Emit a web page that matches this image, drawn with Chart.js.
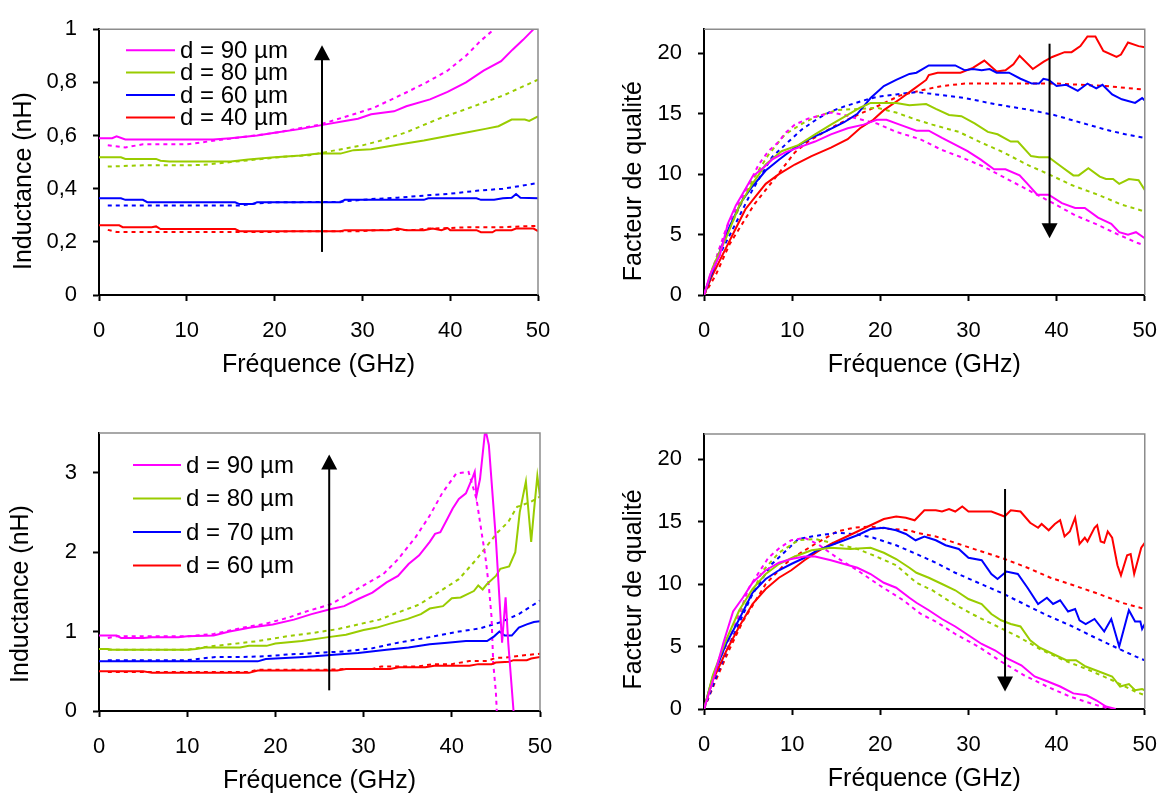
<!DOCTYPE html>
<html>
<head>
<meta charset="utf-8">
<script src="https://cdn.jsdelivr.net/npm/chart.js@4.4.1/dist/chart.umd.min.js"></script>
<style>
  body { margin: 0; background: #fff; width: 1174px; height: 793px; position: relative; overflow: hidden; }
  canvas { position: absolute; }
</style>
</head>
<body>
<canvas id="c1" width="590" height="390" style="left:0;top:0"></canvas>
<canvas id="c2" width="584" height="390" style="left:590px;top:0"></canvas>
<canvas id="c3" width="590" height="396" style="left:0;top:400px"></canvas>
<canvas id="c4" width="584" height="396" style="left:590px;top:400px"></canvas>
<script>
// couleurs des courbes
var MAG = '#FF00FF', GRN = '#99CC00', BLU = '#0000FF', RED = '#FF0000';

// ---- inductance, premier jeu (d = 90/80/60/40 µm) : [GHz, nH]
var L1_mes90 = [[0,0.59],[1.5,0.59],[2,0.597],[3,0.585],[13,0.585],[15,0.59],[18,0.60],[20,0.61],[23,0.625],[25.5,0.64],[28,0.655],[29.5,0.663],[31,0.68],[33.6,0.691],[35,0.71],[37.7,0.736],[39.7,0.764],[41.8,0.80],[43.8,0.844],[45.8,0.88],[47.1,0.923],[48.3,0.96],[49.5,1.0],[50,1.02]];
var L1_sim90 = [[1,0.563],[3,0.555],[5,0.567],[10,0.567],[13,0.58],[16,0.593],[20,0.61],[25,0.64],[27,0.66],[29,0.68],[31.2,0.703],[33.6,0.74],[35.5,0.77],[37.3,0.80],[39.7,0.844],[41.8,0.90],[43.4,0.954],[45,1.0],[46,1.03]];
var L1_mes80 = [[0,0.518],[2.5,0.518],[3,0.512],[6.5,0.512],[7,0.505],[8,0.502],[15,0.502],[17,0.51],[20,0.518],[23,0.525],[25,0.532],[27.5,0.532],[29,0.545],[31,0.548],[34,0.565],[37,0.581],[40,0.60],[42,0.612],[44,0.625],[45.5,0.635],[47,0.66],[48.5,0.66],[49,0.655],[50,0.672]];
var L1_sim80 = [[1,0.483],[5,0.488],[10,0.488],[12,0.49],[15,0.50],[18,0.51],[21,0.52],[24,0.526],[27,0.545],[30,0.563],[32,0.58],[35,0.612],[37,0.64],[39,0.667],[41,0.69],[43.5,0.72],[46,0.75],[48,0.78],[50,0.81]];
var L1_mes60 = [[0,0.364],[2.5,0.364],[3,0.358],[5,0.358],[5.5,0.349],[15.5,0.349],[16,0.342],[17.5,0.342],[18,0.349],[27.5,0.349],[28,0.358],[37,0.358],[37.5,0.364],[43,0.364],[43.5,0.358],[45,0.358],[46,0.364],[47,0.366],[47.5,0.38],[48,0.366],[50,0.364]];
var L1_sim60 = [[1,0.337],[16,0.337],[18,0.345],[20,0.349],[27,0.35],[29,0.355],[31,0.361],[34,0.366],[37,0.374],[40,0.381],[43,0.392],[46,0.40],[48,0.41],[50,0.422]];
var L1_mes40 = [[0,0.262],[2.3,0.262],[2.7,0.255],[6,0.255],[6.5,0.258],[7,0.248],[15.5,0.248],[16,0.24],[27.5,0.24],[28,0.244],[33,0.244],[34,0.25],[35,0.244],[37,0.244],[38,0.25],[39,0.244],[39.7,0.252],[40,0.244],[43,0.244],[43.5,0.236],[44.8,0.236],[45.2,0.244],[47,0.244],[47.5,0.25],[49.5,0.25],[50,0.24]];
var L1_sim40 = [[1,0.245],[2,0.237],[20,0.237],[22,0.24],[30,0.24],[32,0.245],[36,0.245],[37.5,0.25],[40,0.252],[42,0.255],[46,0.255],[48,0.258],[50,0.26]];

// ---- facteur de qualité, premier jeu
var Q1_mes90 = [[0,0],[0.7,1.7],[1.8,3.3],[2.7,5.9],[3.6,7.4],[4.4,8.4],[5.5,9.8],[7,10.7],[7.7,11.2],[9.2,11.8],[10.7,12.2],[12.6,12.7],[14.4,13.3],[16.3,13.8],[18.1,14.1],[19.6,14.5],[20.7,14.5],[22.2,14.1],[24.1,13.6],[25.5,13.6],[27,13.0],[28.1,12.6],[29.9,11.9],[31.4,11.2],[32.9,10.4],[34.2,10.4],[35.8,9.9],[36.7,9.2],[37.8,8.3],[39.1,8.3],[40.6,7.6],[42.1,7.2],[43.2,7.2],[44.7,6.4],[46.2,5.9],[47.1,5.2],[48.1,5.0],[49,5.2],[50,4.7]];
var Q1_sim90 = [[0,0],[0.9,2.0],[2.5,5.5],[4.4,8.2],[6.2,10.8],[7.3,11.9],[8.5,12.7],[9.2,13.4],[10.3,14.1],[11.8,14.6],[12.9,14.8],[14.4,15.1],[15.9,14.9],[17.4,14.6],[19.6,14.2],[21.8,13.5],[24.5,12.9],[27,12.0],[29.2,11.4],[31.8,10.6],[34.4,9.6],[37,8.6],[39.6,7.6],[42.1,6.6],[44.7,5.8],[47,5.0],[49.2,4.3],[50,4.1]];
var Q1_mes80 = [[0,0],[1,2.3],[2.5,4.7],[4,7.4],[5.5,9.2],[7,10.8],[8.8,11.9],[10.7,12.4],[12.6,13.3],[14.4,14.1],[16.3,14.9],[17.7,15.5],[18.9,15.9],[20.4,15.9],[21.8,15.9],[23.3,15.7],[25.2,15.8],[26.3,15.4],[27.8,14.9],[29.2,14.8],[30.7,14.2],[32.2,13.5],[33.3,13.3],[34.8,12.7],[35.6,12.7],[37.1,11.5],[38,11.4],[39.1,11.4],[40.4,10.7],[41.9,9.9],[42.5,9.9],[43.6,10.5],[44.9,9.8],[45.6,9.6],[46.4,9.6],[47.1,9.2],[48.2,9.6],[49.3,9.5],[50,8.7]];
var Q1_sim80 = [[0,0],[1.8,3.9],[3.6,6.6],[5.5,9.5],[7.3,11.6],[9.2,13.3],[11.4,14.3],[12.9,14.8],[15.1,15.3],[17.4,15.4],[19.6,15.5],[21.8,15.1],[24.1,14.5],[25.9,14.1],[28.9,13.5],[31.5,12.6],[34,11.8],[36.6,10.8],[39.1,10.0],[41.7,9.1],[44.7,8.3],[47.3,7.5],[49.6,7.0],[50,6.9]];
var Q1_mes60 = [[0,0],[1.4,2.8],[2.5,5.0],[3.3,6.3],[4.4,7.9],[5.5,9.0],[7,10.3],[8.5,11.2],[10.3,12.2],[12.2,13.0],[13.7,13.5],[15.9,14.3],[17.4,15.0],[18.9,16.3],[20.4,17.3],[21.8,17.8],[23.3,18.3],[24.1,18.4],[25.5,19.0],[28.5,19.0],[29.6,18.6],[30.5,18.7],[31.5,18.6],[32.4,18.7],[33.2,18.4],[34.6,18.4],[35.9,17.9],[37.2,17.5],[38,17.5],[38.5,17.9],[39.1,17.8],[40,17.3],[41.1,17.4],[42.4,16.9],[43.5,17.5],[44.5,17.1],[45.2,17.4],[46.3,16.6],[47.4,16.2],[48.9,15.9],[49.7,16.3],[50,16.1]];
var Q1_sim60 = [[0,0],[1.4,2.8],[3.3,5.5],[5.5,8.7],[7.7,11.4],[9.6,12.7],[11.1,13.7],[12.9,14.6],[14.4,15.2],[15.9,15.6],[18.1,16.1],[19.6,16.4],[21.8,16.6],[24.1,16.8],[26.3,16.6],[29.6,16.3],[33,15.8],[37.1,15.3],[39.7,14.9],[42.6,14.3],[45.5,13.7],[47.8,13.3],[50,13.0]];
var Q1_mes40 = [[0,0],[1,1.7],[2.5,3.9],[3.6,5.5],[4.7,7.1],[5.9,8.2],[7,9.2],[8.5,10.0],[10.3,10.8],[12.2,11.5],[14.4,12.2],[16.3,12.9],[17.7,13.8],[19.2,14.5],[20.4,15.3],[22.2,16.2],[23.7,17.0],[25.2,17.8],[25.5,18.2],[26.5,18.4],[29.1,18.4],[30.5,18.8],[31.8,19.4],[33.2,18.5],[34.2,18.6],[35.1,19.1],[35.8,19.8],[37.3,18.7],[38.5,19.3],[39.5,19.7],[40.9,20.1],[41.7,20.1],[42.7,20.6],[43.5,21.4],[44.4,21.4],[45.3,20.2],[46.8,19.7],[47.3,19.9],[48.1,20.9],[49.3,20.6],[50,20.5]];
var Q1_sim40 = [[0,0],[1.3,1.6],[2.9,4.2],[5.7,7.5],[8.3,9.9],[10.3,11.8],[11.8,12.7],[15.1,14.1],[17.4,14.9],[20.2,15.8],[22.2,16.5],[24.4,16.9],[27,17.3],[29.6,17.5],[40,17.5],[45.5,17.3],[50,17.0]];

// ---- inductance, second jeu (d = 90/80/70/60 µm)
var L2_mes90 = [[0,0.95],[2,0.95],[2.5,0.92],[5,0.92],[6,0.93],[9,0.93],[10,0.94],[13,0.95],[14.8,1.0],[17.2,1.05],[19.7,1.09],[22.1,1.15],[24.1,1.22],[26.2,1.28],[27.8,1.32],[29.4,1.41],[31,1.49],[32.6,1.62],[33.9,1.70],[35.1,1.85],[36.3,1.96],[37.5,2.13],[38.1,2.23],[38.7,2.25],[39.5,2.42],[40.1,2.55],[40.8,2.67],[41.6,2.74],[42.4,2.95],[42.6,3.01],[42.8,2.71],[43.2,2.92],[43.8,3.55],[44.2,3.35],[45,2.16],[45.7,0.86],[46.1,1.43],[46.4,0.86],[47,0],[47.3,-0.5]];
var L2_sim90 = [[1,0.92],[2,0.94],[10,0.94],[13,0.97],[16.4,1.05],[18.9,1.1],[21.3,1.17],[23.7,1.26],[26.2,1.34],[28.6,1.49],[30.6,1.62],[32.2,1.72],[33.9,1.91],[35.9,2.19],[37.5,2.46],[38.9,2.74],[40.5,2.99],[41.9,3.01],[42.8,2.67],[43.5,2.16],[43.8,1.95],[44.2,1.57],[44.5,1.19],[44.7,0.6],[45.0,0.23],[45.1,0],[45.2,-0.3]];
var L2_mes80 = [[0,0.78],[1,0.78],[1.5,0.77],[10,0.77],[11,0.78],[12,0.80],[16,0.80],[17,0.82],[19,0.82],[20,0.85],[23,0.88],[26,0.93],[28,0.96],[30,1.02],[31.5,1.05],[33,1.10],[35,1.16],[36.5,1.22],[37.5,1.29],[39,1.32],[40,1.42],[41,1.43],[42.5,1.51],[43,1.58],[43.5,1.53],[44,1.60],[45,1.70],[45.5,1.79],[46.5,1.82],[47.2,2.0],[47.7,2.5],[48.4,2.89],[49.0,2.13],[49.3,2.5],[49.7,2.96],[50,2.7]];
var L2_sim80 = [[1,0.77],[10,0.77],[11.6,0.8],[14.8,0.84],[18,0.88],[21.3,0.94],[24.1,0.98],[27,1.03],[29.4,1.09],[31.8,1.15],[33.9,1.24],[36.3,1.34],[38.7,1.51],[40.8,1.66],[42.8,1.91],[44,2.08],[45.2,2.25],[46.4,2.38],[47.4,2.57],[48.9,2.63],[50,2.7]];
var L2_mes70 = [[0,0.625],[18,0.625],[18.9,0.655],[23.3,0.68],[27,0.71],[29.4,0.73],[32.6,0.77],[35.1,0.80],[37.5,0.84],[39.5,0.86],[41.6,0.88],[44,0.88],[44.8,0.94],[45.4,1.0],[46,0.95],[46.8,0.95],[47.6,1.05],[48.5,1.09],[49.3,1.12],[50,1.13]];
var L2_sim70 = [[1,0.64],[10,0.64],[13.2,0.68],[16.4,0.68],[18.9,0.69],[21.3,0.71],[24.5,0.73],[27.8,0.75],[31,0.79],[33.9,0.86],[37.5,0.93],[40.8,1.0],[43.2,1.04],[45.6,1.12],[47.6,1.22],[50,1.39]];
var L2_mes60 = [[0,0.50],[5,0.50],[6,0.48],[17,0.48],[18,0.51],[27,0.51],[28,0.53],[33,0.53],[34,0.55],[37,0.55],[38,0.57],[42,0.57],[43,0.59],[44.5,0.59],[45,0.61],[46.5,0.62],[47,0.64],[48.5,0.64],[49,0.66],[50,0.68]];
var L2_sim60 = [[1,0.49],[17,0.49],[18,0.52],[26,0.52],[28,0.53],[31,0.53],[32,0.56],[36,0.56],[38,0.59],[40,0.59],[42,0.63],[44,0.63],[45,0.67],[46,0.67],[48,0.70],[50,0.72]];

// ---- facteur de qualité, second jeu
var Q2_mes90 = [[0,0],[1.1,2.5],[2.2,5.3],[3.3,7.8],[4.4,8.9],[5.5,10.1],[7,11.1],[8.5,11.7],[9.9,12.0],[11.4,12.2],[12.6,12.2],[14.4,11.9],[15.9,11.6],[17.4,11.3],[18.9,10.8],[20.4,10.1],[21.8,9.7],[23.3,8.9],[24.1,8.5],[25.5,7.9],[27,7.2],[28.5,6.6],[30,5.9],[31.5,5.2],[33,4.7],[34.5,4.0],[36,3.5],[37.5,2.6],[39,2.2],[40.4,1.8],[41.9,1.25],[43.4,1.1],[44.5,0.7],[45.6,0.2],[46.7,0.0]];
var Q2_sim90 = [[0,0],[1.4,3.4],[3.3,6.3],[5.1,9.7],[7.3,12.1],[8.6,12.9],[9.9,13.5],[11.4,13.7],[12.9,13.2],[15.1,12.1],[17.4,11.1],[19.9,9.9],[22.6,8.7],[24.6,7.6],[26.3,7.0],[28.5,6.0],[31.1,5.0],[33.7,3.8],[36.3,2.7],[38.9,1.8],[41.5,1.0],[44.1,0.4],[45.6,0.1],[46.3,0.0]];
var Q2_mes80 = [[0,0],[1,2.7],[2.5,5.5],[4,7.9],[5.5,9.6],[7,10.8],[8.5,11.6],[10.3,12.2],[12.2,12.7],[14.4,12.9],[16.6,12.8],[18.9,12.9],[20.4,12.5],[21.8,12.0],[23.3,11.3],[24.1,10.9],[25.5,10.5],[27,10.0],[28.5,9.5],[30,8.8],[31.5,8.4],[32.6,7.6],[33.7,7.1],[34.8,6.8],[35.9,6.6],[37,5.5],[38.1,4.9],[39.6,4.4],[41.1,3.9],[42.2,3.9],[43.3,3.4],[44.8,3.0],[46.3,2.6],[47.2,1.8],[48.2,2.0],[48.9,1.5],[49.7,1.6],[50,1.5]];
var Q2_sim80 = [[0,0],[1.8,4.0],[4,7.4],[5.7,9.6],[6.6,11.0],[8.5,12.5],[10.7,13.5],[12.6,13.6],[15.1,13.2],[17.4,12.8],[19.2,12.3],[21.8,11.5],[24.1,10.1],[25.9,9.5],[28.1,8.5],[30.4,7.6],[33,6.7],[35.6,5.8],[38.1,4.8],[40.8,3.9],[43.4,3.2],[46.3,2.3],[48.9,1.4],[50,1.1]];
var Q2_mes70 = [[0,0],[1,2.6],[2.5,5.2],[4,7.2],[5.5,9.3],[7,10.4],[8.5,11.1],[9.9,11.6],[11.4,12.1],[12.9,12.7],[14.4,13.1],[15.9,13.5],[17.4,13.9],[18.9,14.4],[20.4,14.5],[21.8,14.3],[22.9,14.0],[24,13.5],[25,13.8],[26.3,13.5],[27.4,13.1],[28.9,12.8],[30,12.1],[31.5,11.9],[32.6,10.8],[33.3,10.4],[34.3,11.0],[35.6,10.8],[36.7,9.7],[37.9,8.4],[38.9,8.9],[39.6,8.4],[40.4,8.7],[41.3,7.8],[42.1,8.0],[42.6,7.1],[43.3,6.8],[44.3,7.2],[45.4,6.2],[46.2,7.2],[47.1,5.0],[48.2,7.9],[48.9,7.0],[49.5,7.0],[49.7,6.4],[50,6.8]];
var Q2_sim70 = [[0,0],[1.4,2.6],[2.9,5.2],[5.5,9.2],[7.7,11.6],[10.7,13.6],[12.2,13.8],[15.1,14.1],[17,14.0],[19.2,13.7],[21.8,13.1],[24.1,12.4],[26.3,11.7],[28.5,10.9],[31.1,10.1],[33.7,9.3],[36.3,8.4],[38.9,7.5],[41.5,6.7],[44.1,5.8],[47.1,4.8],[49.6,4.0],[50,3.9]];
var Q2_mes60 = [[0,0],[1,2.3],[2.5,4.6],[4,6.6],[5.5,8.4],[7,9.6],[8.5,10.5],[9.9,11.1],[11.4,11.9],[12.9,12.6],[14.4,13.2],[15.9,13.7],[17.4,14.2],[18.9,14.7],[20.4,15.2],[21.8,15.4],[22.9,15.3],[23.9,15.1],[25,15.9],[26.3,15.9],[27,15.8],[27.8,16.0],[28.5,15.8],[29.3,16.2],[30,15.8],[32.6,15.8],[34.1,15.4],[34.8,15.9],[35.9,15.8],[37,14.9],[37.9,14.5],[38.3,14.8],[39.1,14.3],[39.8,14.8],[40.4,15.1],[40.9,13.8],[41.5,14.2],[42.1,15.3],[42.6,13.2],[43.2,13.7],[43.5,13.4],[44.3,14.5],[44.6,14.7],[45,13.4],[45.4,13.3],[45.8,14.2],[46.3,13.7],[46.9,11.5],[47.3,10.7],[48,12.3],[48.4,12.4],[48.8,10.8],[49.6,12.9],[50,13.3]];
var Q2_sim60 = [[0,0],[1.4,2.4],[2.9,4.8],[4.4,7.0],[7,10.0],[9.2,11.6],[10.3,12.2],[12.6,13.2],[15.1,14.2],[17,14.5],[18.9,14.6],[21.1,14.4],[23.3,14.3],[24.1,14.1],[26.3,13.8],[28.9,13.2],[31.5,12.6],[34.1,12.0],[36.7,11.3],[39.3,10.5],[41.9,9.9],[44.8,9.2],[47.4,8.5],[50,8.0]];

var FONT = '"Liberation Sans", Arial, sans-serif';
Chart.defaults.font.family = FONT;
Chart.defaults.color = '#000';

function pts(a) { return a.map(function (p) { return { x: p[0], y: p[1] }; }); }

function courbe(label, color, data, dashed) {
  return {
    label: label,
    data: pts(data),
    borderColor: color,
    borderWidth: 2,
    borderDash: dashed ? [4, 4] : [],
    pointRadius: 0,
    tension: 0,
    fill: false,
    inLegend: !dashed
  };
}

function virgule(v) { return String(Math.round(v * 10) / 10).replace('.', ','); }

// cadre gris en haut et à droite
var cadre = {
  id: 'cadre',
  afterDatasetsDraw: function (chart) {
    var a = chart.chartArea, ctx = chart.ctx;
    ctx.save();
    ctx.strokeStyle = '#8c8c8c';
    ctx.lineWidth = 1.5;
    ctx.beginPath();
    ctx.moveTo(a.left, a.top);
    ctx.lineTo(a.right, a.top);
    ctx.lineTo(a.right, a.bottom);
    ctx.stroke();
    ctx.restore();
  }
};

// flèche noire (valeurs en unités des axes)
var fleche = {
  id: 'fleche',
  afterDatasetsDraw: function (chart, args, o) {
    var ctx = chart.ctx;
    var px = chart.scales.x.getPixelForValue(o.x);
    var p0 = chart.scales.y.getPixelForValue(o.from);
    var p1 = chart.scales.y.getPixelForValue(o.to);
    var dir = p1 < p0 ? 1 : -1;
    ctx.save();
    ctx.strokeStyle = '#000';
    ctx.fillStyle = '#000';
    ctx.lineWidth = 2;
    ctx.beginPath();
    ctx.moveTo(px, p0);
    ctx.lineTo(px, p1 + dir * 14);
    ctx.stroke();
    ctx.beginPath();
    ctx.moveTo(px, p1);
    ctx.lineTo(px - 8, p1 + dir * 15);
    ctx.lineTo(px + 8, p1 + dir * 15);
    ctx.closePath();
    ctx.fill();
    ctx.restore();
  }
};

// légende dans la zone du graphe
var legende = {
  id: 'legende',
  afterDatasetsDraw: function (chart, args, o) {
    if (!o.show) return;
    var ctx = chart.ctx, a = chart.chartArea;
    var x0 = a.left + o.left, y = a.top + o.top;
    ctx.save();
    ctx.font = '24px ' + FONT;
    ctx.textBaseline = 'middle';
    ctx.fillStyle = '#000';
    chart.data.datasets.forEach(function (d) {
      if (!d.inLegend) return;
      ctx.strokeStyle = d.borderColor;
      ctx.lineWidth = 2;
      ctx.beginPath();
      ctx.moveTo(x0, y);
      ctx.lineTo(x0 + o.len, y);
      ctx.stroke();
      ctx.fillText(d.label, x0 + o.len + 5, y + 1);
      y += o.row;
    });
    ctx.restore();
  }
};

// titre vertical de l'axe y
var titreY = {
  id: 'titreY',
  afterDraw: function (chart, args, o) {
    var ctx = chart.ctx, a = chart.chartArea;
    ctx.save();
    ctx.translate(a.left - o.offset, (a.top + a.bottom) / 2 + o.shift);
    ctx.rotate(-Math.PI / 2);
    ctx.font = '25px ' + FONT;
    ctx.textAlign = 'center';
    ctx.textBaseline = 'middle';
    ctx.fillStyle = '#000';
    ctx.fillText(o.text, 0, 0);
    ctx.restore();
  }
};

function axe(min, max, step, fmt, fitW) {
  var ticks = { stepSize: step, padding: 16, font: { size: 22 }, color: '#000' };
  if (fmt) ticks.callback = fmt;
  return {
    type: 'linear', min: min, max: max, bounds: 'data',
    ticks: ticks,
    grid: { display: true, drawOnChartArea: false, drawTicks: true, tickLength: 6, tickColor: '#000', tickWidth: 2 },
    border: { display: true, color: '#000', width: 2 },
    // pas de graduation au sommet quand le max n'est pas un multiple du pas
    afterBuildTicks: function (s) {
      s.ticks = s.ticks.filter(function (t) {
        var r = t.value / step;
        return Math.abs(r - Math.round(r)) < 1e-6;
      });
    },
    afterFit: function (s) { s.width = fitW; }
  };
}

function axeX() {
  return {
    type: 'linear', min: 0, max: 50, bounds: 'data',
    ticks: { stepSize: 10, padding: 17, maxRotation: 0, font: { size: 22 }, color: '#000' },
    grid: { display: true, drawOnChartArea: false, drawTicks: true, tickLength: 6, tickColor: '#000', tickWidth: 2 },
    border: { display: true, color: '#000', width: 2 },
    title: { display: true, text: 'Fréquence (GHz)', font: { size: 25 }, color: '#000', padding: 0 },
    afterFit: function (s) { s.height = 85; }
  };
}

function graphe(id, datasets, y, pad, extra) {
  return new Chart(document.getElementById(id), {
    type: 'line',
    data: { datasets: datasets },
    plugins: [cadre, fleche, legende, titreY],
    options: {
      responsive: false,
      animation: false,
      devicePixelRatio: 1,
      layout: { padding: pad },
      scales: { x: axeX(), y: y },
      plugins: {
        legend: { display: false },
        tooltip: { enabled: false },
        fleche: extra.fleche,
        legende: extra.legende || { show: false },
        titreY: extra.titreY
      }
    }
  });
}

graphe('c1', [
  courbe('d = 90 µm', MAG, L1_mes90), courbe('d = 80 µm', GRN, L1_mes80),
  courbe('d = 60 µm', BLU, L1_mes60), courbe('d = 40 µm', RED, L1_mes40),
  courbe('', MAG, L1_sim90, true), courbe('', GRN, L1_sim80, true),
  courbe('', BLU, L1_sim60, true), courbe('', RED, L1_sim40, true)
], axe(0, 1, 0.2, virgule, 99), { left: 0, right: 52, top: 22, bottom: 10 }, {
  fleche: { x: 25.4, from: 0.162, to: 0.94 },
  legende: { show: true, left: 27, top: 21, len: 49, row: 22.4 },
  titreY: { text: 'Inductance (nH)', offset: 75, shift: 19 }
});

graphe('c2', [
  courbe('d = 90 µm', MAG, Q1_mes90), courbe('d = 80 µm', GRN, Q1_mes80),
  courbe('d = 60 µm', BLU, Q1_mes60), courbe('d = 40 µm', RED, Q1_mes40),
  courbe('', MAG, Q1_sim90, true), courbe('', GRN, Q1_sim80, true),
  courbe('', BLU, Q1_sim60, true), courbe('', RED, Q1_sim40, true)
], axe(0, 22, 5, null, 114), { left: 0, right: 21, top: 22, bottom: 10 }, {
  fleche: { x: 39.2, from: 20.8, to: 4.7 },
  titreY: { text: 'Facteur de qualité', offset: 70, shift: 19 }
});

graphe('c3', [
  courbe('d = 90 µm', MAG, L2_mes90), courbe('d = 80 µm', GRN, L2_mes80),
  courbe('d = 70 µm', BLU, L2_mes70), courbe('d = 60 µm', RED, L2_mes60),
  courbe('', MAG, L2_sim90, true), courbe('', GRN, L2_sim80, true),
  courbe('', BLU, L2_sim70, true), courbe('', RED, L2_sim60, true)
], axe(0, 3.5, 1, null, 99), { left: 0, right: 50, top: 33, bottom: 0 }, {
  fleche: { x: 26.1, from: 0.26, to: 3.23 },
  legende: { show: true, left: 34, top: 32, len: 48, row: 33.5 },
  titreY: { text: 'Inductance (nH)', offset: 78, shift: 22 }
});

graphe('c4', [
  courbe('d = 90 µm', MAG, Q2_mes90), courbe('d = 80 µm', GRN, Q2_mes80),
  courbe('d = 70 µm', BLU, Q2_mes70), courbe('d = 60 µm', RED, Q2_mes60),
  courbe('', MAG, Q2_sim90, true), courbe('', GRN, Q2_sim80, true),
  courbe('', BLU, Q2_sim70, true), courbe('', RED, Q2_sim60, true)
], axe(0, 22, 5, null, 114), { left: 0, right: 21, top: 34, bottom: 2 }, {
  fleche: { x: 34.15, from: 17.6, to: 1.4 },
  titreY: { text: 'Facteur de qualité', offset: 70, shift: 18 }
});
</script>
</body>
</html>
